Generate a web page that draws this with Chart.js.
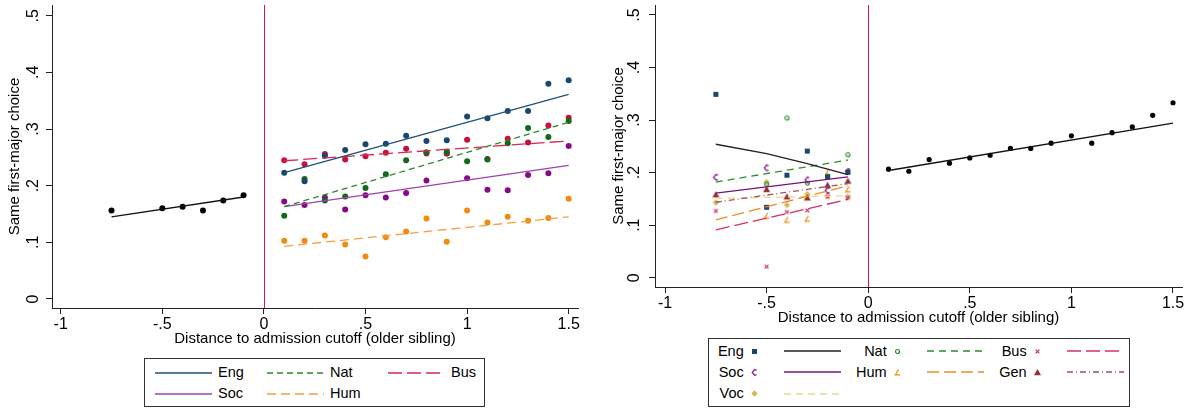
<!DOCTYPE html>
<html>
<head>
<meta charset="utf-8">
<script src="https://cdn.jsdelivr.net/npm/chart.js@4/dist/chart.umd.min.js"></script>
<style>
  html, body { margin: 0; padding: 0; background: #fff; }
  #wrap { position: relative; width: 1188px; height: 409px; overflow: hidden; font-family: "Liberation Sans", Arial, sans-serif; }
  canvas.chart { position: absolute; top: 0; }
  .legend { position: absolute; box-sizing: border-box; border: 1px solid #333; background: #fff; }
  .legend .it { position: absolute; font-size: 14.5px; color: #000; line-height: 16px; white-space: nowrap; }
  .legend svg, .legend canvas { position: absolute; }
</style>
</head>
<body>
<div id="wrap">
  <canvas class="chart" id="leftChart" width="594" height="350" style="left:0"></canvas>
  <canvas class="chart" id="rightChart" width="594" height="329" style="left:594px"></canvas>
  <div class="legend" id="legLeft" style="left:144px; top:358px; width:341px; height:49px"></div>
  <div class="legend" id="legRight" style="left:708px; top:338px; width:422px; height:69px"></div>
</div>
<script>
// ---- data ----
const xTicks = [-1, -0.5, 0, 0.5, 1, 1.5];
const xTickLabels = ['-1', '-.5', '0', '.5', '1', '1.5'];
const yTicks = [0, 0.1, 0.2, 0.3, 0.4, 0.5];
const yTickLabels = ['0', '.1', '.2', '.3', '.4', '.5'];
const xTitle = 'Distance to admission cutoff (older sibling)';
const yTitle = 'Same first-major choice';
const cutoff = 0;

const binsNeg = [-0.75, -0.5, -0.4, -0.3, -0.2, -0.1];
const binsPos = [0.1, 0.2, 0.3, 0.4, 0.5, 0.6, 0.7, 0.8, 0.9, 1.0, 1.1, 1.2, 1.3, 1.4, 1.5];
const fitNegX = [-0.75, -0.1];
const fitPosX = [0.1, 1.5];

// left panel
const leftNeg = [0.156, 0.160, 0.163, 0.156, 0.174, 0.183];
const leftNegFit = [0.145, 0.180];
const engL = [0.223, 0.208, 0.253, 0.263, 0.273, 0.274, 0.288, 0.279, 0.280, 0.322, 0.319, 0.332, 0.332, 0.380, 0.386];
const natL = [0.147, 0.212, 0.174, 0.181, 0.196, 0.220, 0.245, 0.259, 0.260, 0.243, 0.246, 0.275, 0.302, 0.286, 0.314];
const busL = [0.245, 0.238, 0.256, 0.246, 0.252, 0.258, 0.265, 0.257, 0.257, 0.281, 0.247, 0.283, 0.276, 0.306, 0.320];
const socL = [0.172, 0.166, 0.179, 0.158, 0.183, 0.179, 0.187, 0.209, 0.257, 0.213, 0.193, 0.192, 0.219, 0.222, 0.270];
const humL = [0.103, 0.103, 0.112, 0.096, 0.075, 0.109, 0.119, 0.142, 0.101, 0.156, 0.135, 0.145, 0.138, 0.143, 0.177];
const engFitL = [0.223, 0.361];
const natFitL = [0.163, 0.312];
const busFitL = [0.244, 0.279];
const socFitL = [0.163, 0.236];
const humFitL = [0.093, 0.145];

// right panel
const rightPos = [0.2065, 0.2026, 0.2248, 0.218, 0.228, 0.233, 0.246, 0.246, 0.256, 0.270, 0.256, 0.276, 0.287, 0.309, 0.333];
const rightPosFit = [0.204, 0.294];
const engR = [0.349, 0.134, 0.195, 0.241, 0.192, 0.201];
const natR = [null, 0.178, 0.304, 0.180, 0.193, 0.234];
const busR = [0.127, 0.021, 0.125, 0.128, 0.154, 0.152];
const socR = [0.191, 0.209, null, 0.186, 0.166, 0.202];
const humR = [null, 0.1175, 0.110, 0.112, 0.201, 0.168];
const genR = [0.158, 0.168, 0.154, 0.152, 0.176, 0.184];
const vocR = [0.143, 0.182, 0.1385, 0.159, 0.156, 0.154];
const engFitRX = [-0.75, -0.5, -0.3, -0.1];
const engFitR = [0.254, 0.236, 0.217, 0.196];
const natFitR = [0.182, 0.224];
const busFitR = [0.091, 0.149];
const socFitR = [0.161, 0.192];
const humFitR = [0.110, 0.175];
const genFitR = [0.1436, 0.179];
const vocFitR = [0.151, 0.156];

// ---- styles ----
const FONT = '"Liberation Sans", Arial, sans-serif';
const AXIS = '#222';

function pts(xs, ys) {
  return xs.map((x, i) => ({ x: x, y: ys[i] })).filter(p => p.y !== null);
}

function makeMarker(kind, color) {
  const c = document.createElement('canvas');
  c.width = 11; c.height = 11;
  const g = c.getContext('2d');
  g.fillStyle = color; g.strokeStyle = color; g.lineWidth = 1.2;
  g.beginPath();
  if (kind === 'square') { g.fillRect(3, 3, 5, 5); }
  else if (kind === 'ohollow') { g.arc(5.5, 5.5, 2, 0, Math.PI * 2); g.stroke(); }
  else if (kind === 'cee') { g.moveTo(7.5, 3.4); g.lineTo(5.6, 2.6); g.lineTo(3.2, 5.5); g.lineTo(5.6, 8.2); g.lineTo(7.6, 7.6); g.stroke(); }
  else if (kind === 'angle') { g.moveTo(6.6, 2.6); g.lineTo(3.4, 7.8); g.lineTo(8, 7.8); g.stroke(); }
  else if (kind === 'x') { g.moveTo(3.6, 3.6); g.lineTo(7.4, 7.4); g.moveTo(7.4, 3.6); g.lineTo(3.6, 7.4); g.stroke(); }
  else if (kind === 'tri') { g.moveTo(5.5, 2); g.lineTo(9, 8.3); g.lineTo(2, 8.3); g.closePath(); g.fill(); }
  else if (kind === 'diamond') { g.moveTo(5.5, 2.3); g.lineTo(8.7, 5.5); g.lineTo(5.5, 8.7); g.lineTo(2.3, 5.5); g.closePath(); g.fill(); }
  return c;
}

const leftSeries = [
  { name: 'Eng', ys: engL, fit: engFitL, color: '#1a476f', line: '#1f4f7a', dash: [] },
  { name: 'Nat', ys: natL, fit: natFitL, color: '#0f6a1a', line: '#2a8a2a', dash: [6, 4] },
  { name: 'Bus', ys: busL, fit: busFitL, color: '#c8103e', line: '#d42a55', dash: [14, 5] },
  { name: 'Soc', ys: socL, fit: socFitL, color: '#850a85', line: '#a040b0', dash: [] },
  { name: 'Hum', ys: humL, fit: humFitL, color: '#f08a10', line: '#f2a040', dash: [9, 5] }
];

const rightSeries = [
  { name: 'Eng', ys: engR, fitX: engFitRX, fit: engFitR, marker: 'square', color: '#1a476f', line: '#222222', dash: [] },
  { name: 'Nat', ys: natR, fit: natFitR, marker: 'ohollow', color: '#2a8a2a', line: '#2e8b2e', dash: [7, 5] },
  { name: 'Bus', ys: busR, fit: busFitR, marker: 'x', color: '#d42a5a', line: '#d83060', dash: [14, 5] },
  { name: 'Soc', ys: socR, fit: socFitR, marker: 'cee', color: '#8a1a9a', line: '#7a1080', dash: [] },
  { name: 'Hum', ys: humR, fit: humFitR, marker: 'angle', color: '#f08a10', line: '#f08a20', dash: [12, 5] },
  { name: 'Gen', ys: genR, fit: genFitR, marker: 'tri', color: '#923030', line: '#a05060', dash: [6, 3, 1, 3] },
  { name: 'Voc', ys: vocR, fit: vocFitR, marker: 'diamond', color: '#d6b656', line: '#eed88a', dash: [7, 5] }
];

// ---- plugins ----
const stataBits = {
  id: 'stataBits',
  beforeDatasetsDraw(chart) {
    const ctx = chart.ctx, xs = chart.scales.x, a = chart.chartArea;
    const px = Math.round(xs.getPixelForValue(cutoff)) + 0.5;
    ctx.save();
    ctx.strokeStyle = '#d4174a';
    ctx.lineWidth = 1;
    ctx.beginPath(); ctx.moveTo(px, a.top); ctx.lineTo(px, a.bottom); ctx.stroke();
    ctx.restore();
  },
  afterDraw(chart, args, opts) {
    const ctx = chart.ctx, ys = chart.scales.y;
    ctx.save();
    ctx.font = '16px ' + FONT;
    ctx.fillStyle = '#000';
    ctx.textAlign = 'center';
    ctx.textBaseline = 'middle';
    yTicks.forEach((v, i) => {
      ctx.save();
      ctx.translate(ys.right - opts.offset, ys.getPixelForValue(v));
      ctx.rotate(-Math.PI / 2);
      ctx.fillText(yTickLabels[i], 0, 0);
      ctx.restore();
    });
    ctx.restore();
  }
};

function makeOptions(cfg) {
  return {
    responsive: false,
    animation: false,
    devicePixelRatio: 1,
    layout: { padding: { left: 0, top: 5, right: cfg.padRight, bottom: 0 } },
    plugins: { legend: { display: false }, tooltip: { enabled: false }, stataBits: { offset: cfg.labelOffset } },
    scales: {
      x: {
        type: 'linear', min: cfg.xMin, max: cfg.xMax,
        afterFit: s => { s.height = cfg.xAxisH; },
        afterBuildTicks: s => { s.ticks = xTicks.map(v => ({ value: v })); },
        ticks: { callback: (v, i) => xTickLabels[i], font: { family: FONT, size: 16 }, color: '#000', padding: 1, maxRotation: 0, autoSkip: false },
        grid: { display: true, drawOnChartArea: false, drawTicks: true, tickLength: 6, color: AXIS, lineWidth: 1 },
        border: { display: true, color: AXIS, width: 1 },
        title: { display: true, text: xTitle, color: '#000', font: { family: FONT, size: 15 }, padding: { top: 0, bottom: cfg.xTitlePad } }
      },
      y: {
        type: 'linear', min: cfg.yMin, max: cfg.yMax,
        afterFit: s => { s.width = cfg.yAxisW; },
        afterBuildTicks: s => { s.ticks = yTicks.map(v => ({ value: v })); },
        ticks: { display: false },
        grid: { display: true, drawOnChartArea: false, drawTicks: true, tickLength: 6, color: AXIS, lineWidth: 1 },
        border: { display: true, color: AXIS, width: 1 },
        title: { display: true, text: yTitle, color: '#000', font: { family: FONT, size: 15 }, padding: { top: cfg.yTitlePad, bottom: 0 } }
      }
    }
  };
}

function fitSet(xs, ys, color, dash) {
  return { data: pts(xs, ys), showLine: true, pointRadius: 0, borderColor: color, borderWidth: 1.3, borderDash: dash, fill: false };
}

// ---- left chart ----
const leftData = [];
leftData.push(fitSet(fitNegX, leftNegFit, '#111', []));
leftSeries.forEach(s => leftData.push(fitSet(fitPosX, s.fit, s.line, s.dash)));
leftData.push({ data: pts(binsNeg, leftNeg), pointRadius: 3, pointBackgroundColor: '#000', pointBorderWidth: 0, showLine: false });
leftSeries.forEach(s => leftData.push({ data: pts(binsPos, s.ys), pointRadius: 3, pointBackgroundColor: s.color, pointBorderWidth: 0, showLine: false }));

new Chart(document.getElementById('leftChart'), {
  type: 'scatter',
  data: { datasets: leftData },
  options: makeOptions({ padRight: 16, xMin: -1.0429, xMax: 1.5458, yMin: -0.0159, yMax: 0.5189, xAxisH: 42, yAxisW: 52, xTitlePad: 2, yTitlePad: 6, labelOffset: 18.5 }),
  plugins: [stataBits]
});

// ---- right chart ----
const rightData = [];
rightSeries.forEach(s => rightData.push(fitSet(s.fitX || fitNegX, s.fit, s.line, s.dash)));
rightData.push(fitSet(fitPosX, rightPosFit, '#111', []));
rightData.push({ data: pts(binsPos, rightPos), pointRadius: 2.6, pointBackgroundColor: '#000', pointBorderWidth: 0, showLine: false });
rightSeries.forEach(s => rightData.push({ data: pts(binsNeg, s.ys), pointStyle: makeMarker(s.marker, s.color), showLine: false }));

new Chart(document.getElementById('rightChart'), {
  type: 'scatter',
  data: { datasets: rightData },
  options: makeOptions({ padRight: 6, xMin: -1.0493, xMax: 1.5443, yMin: -0.0177, yMax: 0.519, xAxisH: 42, yAxisW: 61, xTitlePad: 2, yTitlePad: 16, labelOffset: 20 }),
  plugins: [stataBits]
});

// ---- legends ----
function lineSample(color, dash, w) {
  const ns = 'http://www.w3.org/2000/svg';
  const svg = document.createElementNS(ns, 'svg');
  svg.setAttribute('width', w); svg.setAttribute('height', 6);
  const ln = document.createElementNS(ns, 'line');
  ln.setAttribute('x1', 0); ln.setAttribute('x2', w); ln.setAttribute('y1', 3); ln.setAttribute('y2', 3);
  ln.setAttribute('stroke', color); ln.setAttribute('stroke-width', 1.4);
  if (dash.length) ln.setAttribute('stroke-dasharray', dash.join(' '));
  svg.appendChild(ln);
  return svg;
}

const legL = document.getElementById('legLeft');
const lColX = [10, 122, 243], lRowY = [13.7, 34.7];
leftSeries.forEach((s, i) => {
  const cx = lColX[i % 3], cy = lRowY[Math.floor(i / 3)];
  const sv = lineSample(s.line, s.dash, 57);
  sv.style.left = cx + 'px'; sv.style.top = (cy - 3) + 'px';
  legL.appendChild(sv);
  const t = document.createElement('div');
  t.className = 'it'; t.textContent = s.name;
  t.style.left = (cx + 63) + 'px'; t.style.top = (cy - 8.5) + 'px';
  legL.appendChild(t);
});

const legR = document.getElementById('legRight');
const rTextEnd = [34.7, 177.7, 317.7], rRowY = [12, 33, 54.7];
rightSeries.forEach((s, i) => {
  const te = rTextEnd[i % 3], cy = rRowY[Math.floor(i / 3)];
  const t = document.createElement('div');
  t.className = 'it'; t.textContent = s.name;
  t.style.right = (422 - 2 - te) + 'px'; t.style.top = (cy - 8.5) + 'px';
  legR.appendChild(t);
  const m = makeMarker(s.marker, s.color);
  m.style.left = (te + 11 - 5.5) + 'px'; m.style.top = (cy - 5.5) + 'px';
  legR.appendChild(m);
  const sv = lineSample(s.line, s.dash, 57);
  sv.style.left = (te + 40) + 'px'; sv.style.top = (cy - 3) + 'px';
  legR.appendChild(sv);
});
</script>
</body>
</html>
